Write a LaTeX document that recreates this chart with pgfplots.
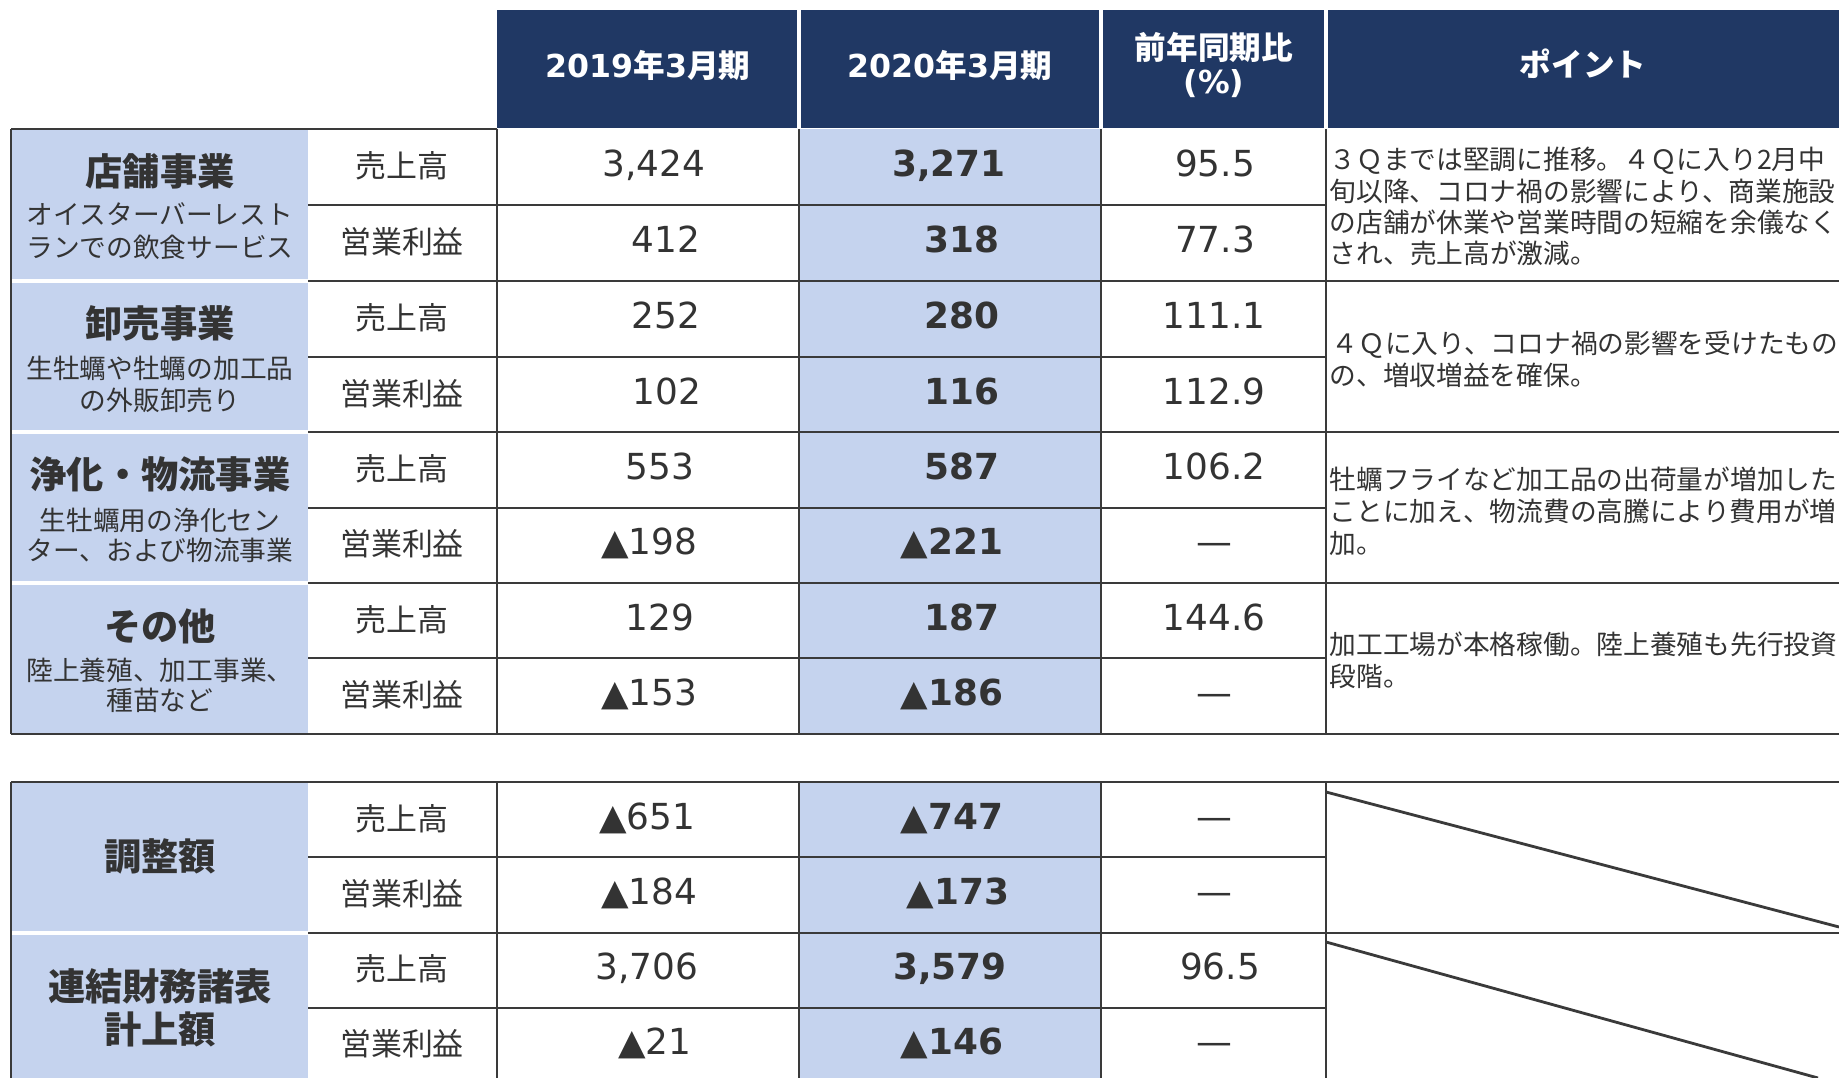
\documentclass[border=0pt]{standalone}
\usepackage{fontspec}
\setmainfont{DejaVu Sans}
\newfontfamily\cjk{Noto Sans CJK JP}
\usepackage{pgfplots}
\pgfplotsset{compat=1.18}
\usepackage{pgfplotstable}

\definecolor{navy}{HTML}{203864}
\definecolor{lblue}{HTML}{C5D3EE}
\definecolor{txt}{HTML}{333333}
\definecolor{rulec}{HTML}{3A3A3A}

% x y value  (x, y in pixel positions of the cell text)
\pgfplotstableread{
x y v
654 164 3,424
666 240 412
666 316 252
667 392 102
660 467 553
649 542 ▲198
660 618 129
649 693 ▲153
647 817 ▲651
649 892 ▲184
647 967 3,706
655 1042 ▲21
}\prevtbl

\pgfplotstableread{
x y v
949 164 3,271
962 240 318
962 316 280
962 392 116
962 467 587
952 542 ▲221
962 618 187
952 693 ▲186
952 817 ▲747
958 892 ▲173
950 967 3,579
952 1042 ▲146
}\currtbl

\pgfplotstableread{
x y v
1215 164 95.5
1215 240 77.3
1214 316 111.1
1214 392 112.9
1214 467 106.2
1214 542 —
1214 618 144.6
1214 693 —
1214 817 —
1214 892 —
1220 967 96.5
1214 1042 —
}\ratiotbl

\tikzset{
  cj/.style={text=txt, inner sep=0pt, text height=0.83em, text depth=0.07em},
  lab/.style={cj, font=\cjk\bfseries\fontsize{10.6pt}{12pt}\selectfont},
  sub/.style={cj, font=\cjk\fontsize{7.6pt}{9pt}\selectfont},
  rowl/.style={cj, font=\cjk\fontsize{8.8pt}{10pt}\selectfont},
  pts/.style={cj, anchor=west, font=\cjk\fontsize{7.6pt}{9pt}\selectfont},
  hd/.style={text=white, inner sep=0pt, font=\fontsize{9pt}{11pt}\selectfont\bfseries},
  ln/.style={draw=rulec, line width=0.6pt},
}

\begin{document}
\begin{tikzpicture}
\begin{axis}[
  width=18.39cm, height=10.78cm, scale only axis, hide axis,
  xmin=0, xmax=1839, ymin=0, ymax=1078, y dir=reverse, clip=false,
]
\coordinate (NW) at (0,0);
\coordinate (SE) at (1839,1078);

% fills
\fill[navy] (497,10) rectangle (1839,128);
\fill[lblue] (12,129) rectangle (308,734);
\fill[lblue] (12,782) rectangle (308,1078);
\fill[lblue] (799,129) rectangle (1101,734);
\fill[lblue] (799,782) rectangle (1101,1078);
\pgfplotsinvokeforeach{281,432,583,933}{
  \draw[white, line width=1pt] (12,#1) -- (308,#1);
}
\pgfplotsinvokeforeach{799,1101,1326}{
  \draw[white, line width=1pt] (#1,10) -- (#1,128);
}

% rules
\draw[ln] (11,129) -- (497,129);
\pgfplotsinvokeforeach{205,357,508,658,857,1008}{
  \draw[ln] (308,#1) -- (1326,#1);
}
\pgfplotsinvokeforeach{281,432,583,933}{
  \draw[ln] (308,#1) -- (1839,#1);
}
\draw[ln] (11,734) -- (1839,734);
\draw[ln] (11,782) -- (1839,782);
\draw[ln] (11,129) -- (11,734);
\draw[ln] (11,782) -- (11,1078);
\pgfplotsinvokeforeach{497,799,1101,1326}{
  \draw[ln] (#1,129) -- (#1,734);
  \draw[ln] (#1,782) -- (#1,1078);
}
\draw[ln, line width=0.8pt] (1326,792) -- (1839,927);
\draw[ln, line width=0.8pt] (1326,942) -- (1818,1078);

% header
\node[hd] at (648,65) {2019{\cjk\bfseries 年}3{\cjk\bfseries 月期}};
\node[hd] at (950,65) {2020{\cjk\bfseries 年}3{\cjk\bfseries 月期}};
\node[hd, font=\cjk\bfseries\fontsize{9pt}{11pt}\selectfont] at (1214,47) {前年同期比};
\node[hd] at (1214,84) {(\%)};
\node[hd, font=\cjk\bfseries\fontsize{9pt}{11pt}\selectfont] at (1583,64) {ポイント};

% segment labels
\node[lab] at (160,172) {店舗事業};
\node[sub] at (160,211) {オイスターバーレスト};
\node[sub] at (160,244) {ランでの飲食サービス};
\node[lab] at (160,324) {卸売事業};
\node[sub] at (160,365) {生牡蠣や牡蠣の加工品};
\node[sub] at (160,397) {の外販卸売り};
\node[lab] at (160,475) {浄化・物流事業};
\node[sub] at (160,517) {生牡蠣用の浄化セン};
\node[sub] at (160,547) {ター、および物流事業};
\node[lab] at (160,627) {その他};
\node[sub] at (160,667) {陸上養殖、加工事業、};
\node[sub] at (160,697) {種苗など};
\node[lab] at (160,857) {調整額};
\node[lab] at (160,987) {連結財務諸表};
\node[lab] at (160,1030) {計上額};

\pgfplotsinvokeforeach{164,316,467,618,817,967}{
  \node[rowl] at (402,#1) {売上高};
}
\pgfplotsinvokeforeach{240,392,542,693,892,1042}{
  \node[rowl] at (402,#1) {営業利益};
}

% comments column
\node[pts] at (1329,156) {３Ｑまでは堅調に推移。４Ｑに入り2月中};
\node[pts] at (1329,188) {旬以降、コロナ禍の影響により、商業施設};
\node[pts] at (1329,219) {の店舗が休業や営業時間の短縮を余儀なく};
\node[pts] at (1329,250) {され、売上高が激減。};
\node[pts] at (1331,340) {４Ｑに入り、コロナ禍の影響を受けたもの};
\node[pts] at (1329,372) {の、増収増益を確保。};
\node[pts] at (1329,476) {牡蠣フライなど加工品の出荷量が増加した};
\node[pts] at (1329,508) {ことに加え、物流費の高騰により費用が増};
\node[pts] at (1329,540) {加。};
\node[pts] at (1329,641) {加工工場が本格稼働。陸上養殖も先行投資};
\node[pts] at (1329,673) {段階。};

% values
\addplot[draw=none, mark=none, nodes near coords, point meta=explicit symbolic,
  every node near coord/.append style={anchor=center, inner sep=0pt, text=txt,
    text height=0.73em, text depth=0pt, font=\fontsize{10.2pt}{12pt}\selectfont}]
  table[x=x, y=y, meta=v] {\prevtbl};
\addplot[draw=none, mark=none, nodes near coords, point meta=explicit symbolic,
  every node near coord/.append style={anchor=center, inner sep=0pt, text=txt,
    text height=0.73em, text depth=0pt, font=\fontsize{10.2pt}{12pt}\selectfont\bfseries}]
  table[x=x, y=y, meta=v] {\currtbl};
\addplot[draw=none, mark=none, nodes near coords, point meta=explicit symbolic,
  every node near coord/.append style={anchor=center, inner sep=0pt, text=txt,
    text height=0.73em, text depth=0pt, font=\fontsize{10.2pt}{12pt}\selectfont}]
  table[x=x, y=y, meta=v] {\ratiotbl};
\end{axis}
\pgfresetboundingbox
\useasboundingbox (NW) rectangle (SE);
\end{tikzpicture}
\end{document}
